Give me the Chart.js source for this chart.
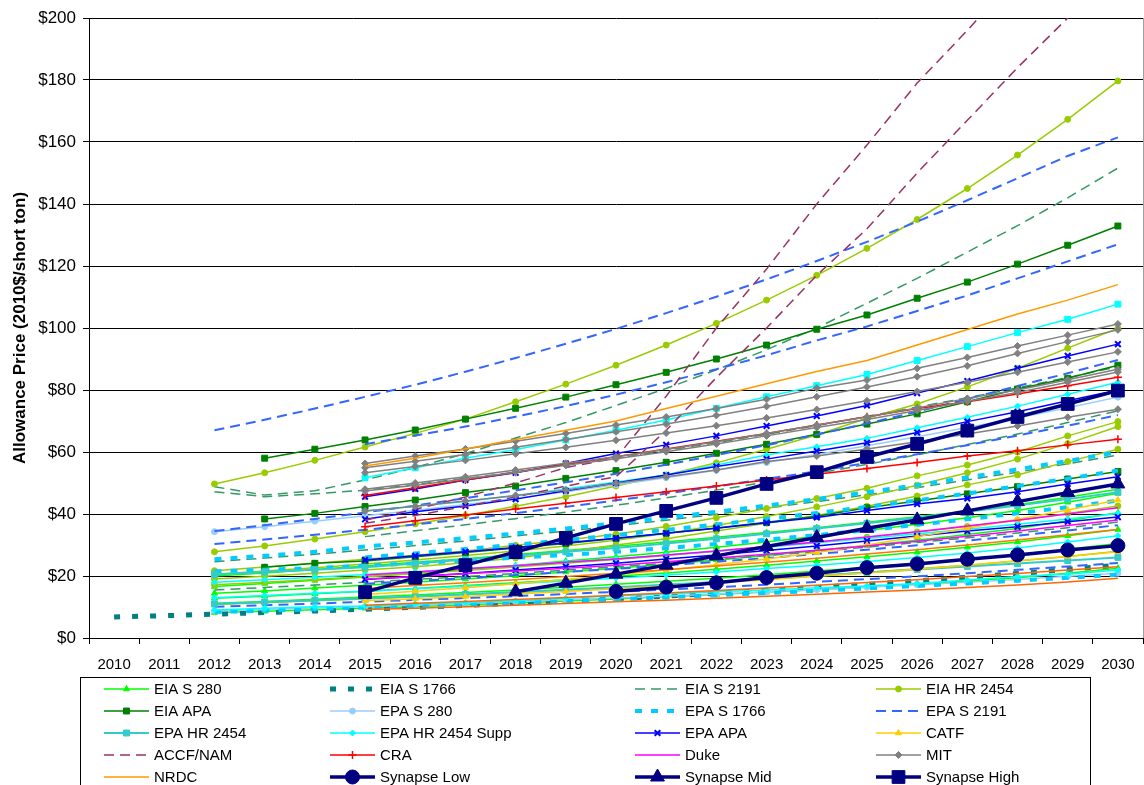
<!DOCTYPE html>
<html lang="en">
<head>
<meta charset="UTF-8">
<title>Allowance Price Forecasts</title>
<script src="https://cdn.jsdelivr.net/npm/chart.js"></script>
<style>
    html, body {
        margin: 0;
        padding: 0;
        background: #fff;
        overflow: hidden;
    }
</style>
</head>
<body>
<canvas id="chart" width="1144" height="800"></canvas>
<script>
const N = null;
const years = ['2010','2011','2012','2013','2014','2015','2016','2017','2018','2019','2020',
               '2021','2022','2023','2024','2025','2026','2027','2028','2029','2030'];
const yTicks = [0, 20, 40, 60, 80, 100, 120, 140, 160, 180, 200];

// one row per scenario, values for 2010..2030 ($/short ton)
const eiaS280 = [
    [N,N,20.0,21.0,22.1,23.2,24.4,25.6,26.9,28.2,29.6,31.0,32.5,34.0,35.6,37.3,39.1,41.0,43.0,45.4,48.0],
    [N,N,16.6,17.6,18.6,19.7,20.9,22.1,23.4,24.8,26.2,27.7,29.3,31.0,32.8,34.7,36.7,38.8,41.1,43.8,46.7],
    [N,N,14.4,15.2,16.1,17.0,18.0,19.0,20.1,21.3,22.5,23.8,25.2,26.6,28.2,29.8,31.5,33.4,35.3,37.8,40.4],
    [N,N,12.8,13.5,14.3,15.1,16.0,16.9,17.8,18.8,19.9,21.0,22.2,23.5,24.8,26.2,27.7,29.3,31.0,33.0,35.0],
    [N,N,11.2,11.8,12.5,13.2,13.9,14.7,15.5,16.4,17.3,18.3,19.3,20.4,21.6,22.8,24.1,25.5,26.9,28.6,30.5],
    [N,N,8.2,8.6,9.1,9.6,10.1,10.7,11.3,11.9,12.6,13.3,14.0,14.8,15.6,16.5,17.4,18.4,19.4,20.9,22.5]
];
const eiaS1766 = [
    [6.8,7.2,7.7,8.2,8.7,9.3,9.9,10.5,11.2,11.9,12.7,13.5,14.4,15.3,16.3,17.3,18.4,19.6,20.8,22.1,23.5]
];
const eiaS2191 = [
    [N,N,48.8,46.1,47.5,51.0,55.0,59.5,64.5,69.5,75.0,80.5,86.5,93.0,100.0,108.0,116.0,124.5,133.0,142.0,151.6],
    [N,N,47.2,45.6,46.5,47.7,49.5,51.5,53.5,55.8,58.0,60.5,63.0,65.7,68.5,71.5,74.5,77.5,80.7,84.0,87.5],
    [N,N,24.6,25.8,27.0,28.4,29.8,31.3,32.9,34.5,36.2,38.0,39.9,41.9,44.0,46.2,48.5,51.0,53.5,56.2,59.0],
    [N,N,N,N,N,32.7,34.6,36.5,38.5,40.6,42.8,45.2,47.7,50.3,53.1,56.0,59.1,62.4,65.8,69.5,73.3],
    [N,N,15.5,16.3,17.1,18.0,18.9,19.8,20.8,21.9,23.0,24.1,25.3,26.6,27.9,29.3,30.8,32.3,33.9,35.6,37.4]
];
const eiaHR2454 = [
    [N,N,49.7,53.3,57.3,61.6,66.0,70.6,76.2,81.9,88.0,94.5,101.5,109.0,117.0,125.7,135.0,145.0,155.8,167.3,179.7],
    [N,N,27.8,29.7,31.9,34.3,36.8,39.5,42.5,45.6,49.0,52.6,56.5,60.9,65.5,70.9,75.5,81.0,87.0,93.5,99.9],
    [N,N,21.7,22.9,24.1,25.4,26.7,28.1,29.9,31.6,33.5,36.0,38.8,41.8,45.0,48.3,52.3,55.8,60.0,65.2,69.8],
    [N,N,20.6,21.6,22.7,23.9,25.2,26.6,28.1,29.7,31.5,33.7,36.3,39.2,42.3,45.6,49.3,53.3,57.7,62.7,68.2],
    [N,N,19.0,19.9,20.9,21.9,23.0,24.3,25.8,27.8,30.0,32.0,34.5,37.0,39.5,42.5,45.8,49.4,52.6,56.9,60.9],
    [N,N,17.2,18.0,18.9,19.8,20.8,21.8,22.9,24.1,25.3,26.6,28.0,29.4,30.9,32.5,34.2,36.0,38.0,40.2,42.6],
    [N,N,10.8,11.4,12.0,12.6,13.3,14.0,14.7,15.5,16.3,17.2,18.1,19.1,20.1,21.2,22.3,23.5,24.8,26.3,28.0]
];
const eiaAPA = [
    [N,N,N,58.0,60.9,63.9,67.1,70.6,74.1,77.7,81.7,85.7,90.0,94.5,99.6,104.2,109.6,114.8,120.6,126.7,132.9],
    [N,N,N,38.4,40.2,42.4,44.5,46.9,49.0,51.5,54.0,56.7,59.6,62.5,65.7,69.0,72.3,76.2,80.3,83.8,88.0],
    [N,N,N,22.8,24.1,24.8,26.2,27.6,29.0,30.5,32.1,33.8,35.5,37.3,39.3,42.0,44.2,46.5,48.8,51.3,53.7]
];
const epaS280 = [
    [N,N,34.3,35.9,37.7,39.4,41.2,43.1,45.1,47.2,49.4,51.7,54.1,56.6,59.2,62.0,64.9,67.9,71.0,74.3,77.7],
    [N,N,8.7,9.2,9.7,10.1,10.6,11.1,11.7,12.3,12.9,13.5,14.2,14.9,15.6,16.4,17.2,18.0,18.9,19.9,20.9]
];
const epaS1766 = [
    [N,N,25.4,26.5,27.8,29.5,30.8,32.2,33.7,35.3,37.0,38.8,40.7,42.7,44.8,47.0,49.3,51.8,54.4,57.1,60.0],
    [N,N,N,N,N,26.0,27.3,28.7,30.1,31.6,33.2,34.9,36.6,38.4,40.3,42.3,44.4,46.6,49.0,51.4,54.0],
    [N,N,21.5,22.0,22.6,23.3,24.1,25.0,25.9,26.8,27.8,29.0,30.3,31.7,33.2,34.8,36.5,38.3,40.2,42.2,44.3],
    [N,N,8.4,8.8,9.3,9.8,10.3,10.8,11.3,11.9,12.5,13.1,13.8,14.5,15.2,16.0,16.8,17.6,18.5,19.4,20.4]
];
const epaS2191 = [
    [N,N,67.0,70.4,74.0,77.8,81.7,85.9,90.3,94.9,99.7,104.8,110.1,115.7,121.6,127.8,134.3,141.2,148.3,155.5,161.5],
    [N,N,N,N,N,62.5,65.3,68.2,71.4,74.8,78.5,82.5,86.7,91.2,96.0,100.5,105.5,110.5,116.0,121.5,127.0],
    [N,N,34.5,36.4,38.4,40.5,42.7,45.1,47.6,50.2,53.0,55.9,59.0,62.2,65.6,69.2,73.0,77.1,81.3,85.4,89.7],
    [N,N,30.3,31.8,33.3,34.9,36.6,38.4,40.3,42.3,44.4,46.6,48.9,51.3,53.8,56.5,59.3,62.2,65.3,68.5,71.9],
    [N,N,N,N,N,17.5,18.4,19.3,20.3,21.3,22.3,23.4,24.6,25.8,27.1,28.5,29.9,31.4,33.0,34.7,36.4],
    [N,N,10.1,10.6,11.1,11.7,12.3,12.9,13.5,14.2,14.9,15.6,16.4,17.2,18.1,19.0,19.9,20.9,22.0,23.1,24.2]
];
const epaHR2454 = [
    [N,N,20.5,21.3,22.0,22.8,24.0,25.3,26.5,27.8,29.0,30.5,32.0,33.6,35.3,37.0,38.8,40.7,42.7,44.8,47.0],
    [N,N,11.0,11.6,12.2,12.8,13.4,14.1,14.8,15.6,16.4,17.2,18.1,19.1,20.1,21.1,22.1,23.1,24.0,25.0,26.0]
];
const epaHR2454Supp = [
    [N,N,N,N,N,51.7,54.9,58.0,60.8,63.9,67.0,70.3,74.1,77.8,81.4,85.0,89.5,94.0,98.5,102.8,107.7],
    [N,N,N,N,N,41.0,42.5,44.0,46.0,48.1,50.3,52.6,55.8,59.0,61.7,64.4,67.8,71.2,74.8,78.6,82.5],
    [N,N,18.0,18.8,19.6,20.5,21.4,22.4,23.4,24.5,25.6,26.8,28.0,29.3,30.7,32.1,33.6,35.1,36.7,38.4,40.2],
    [N,N,13.0,13.7,14.4,15.1,15.9,16.7,17.5,18.4,19.3,20.3,21.3,22.4,23.5,24.7,26.0,27.4,29.0,31.0,33.0],
    [N,N,9.0,9.6,10.1,10.3,11.0,11.4,12.0,12.8,13.6,14.2,14.9,15.5,16.2,16.8,17.6,18.7,19.8,20.6,21.9]
];
const epaAPA = [
    [N,N,N,N,N,45.6,48.1,51.0,53.3,56.3,59.5,62.3,65.2,68.4,71.6,75.0,79.0,82.9,87.0,91.0,94.8],
    [N,N,N,N,N,38.3,40.7,42.6,44.8,47.5,50.0,52.6,55.3,57.7,60.3,63.0,66.3,69.8,73.0,76.5,80.0],
    [N,N,N,N,N,25.2,26.5,27.8,29.2,30.7,32.2,33.8,35.4,37.2,38.9,41.1,43.2,45.0,47.2,49.7,52.0],
    [N,N,N,N,N,18.9,19.8,20.8,21.9,23.0,24.1,25.5,26.8,28.2,29.7,31.3,32.9,34.5,35.9,37.5,39.0]
];
const catf = [
    [N,N,N,N,N,14.0,15.1,16.2,17.5,18.9,20.4,21.9,23.6,25.5,27.6,30.0,32.7,35.4,38.3,41.3,44.5],
    [N,N,N,N,N,12.0,12.7,13.4,14.2,15.0,15.9,16.8,17.8,18.8,19.9,21.0,22.2,23.5,24.9,26.3,27.8]
];
const accfNam = [
    [N,N,N,N,N,38.0,41.5,45.5,50.0,55.0,58.0,78.0,100.0,119.0,140.0,159.0,179.0,196.0,214.0,232.0,250.0],
    [N,N,N,N,N,37.0,39.5,42.5,45.5,49.0,52.0,67.0,84.0,100.0,117.0,132.0,150.0,167.0,184.0,200.0,216.0]
];
const cra = [
    [N,N,N,N,N,46.0,48.5,51.0,53.5,56.0,58.5,61.0,63.5,66.0,68.7,71.4,74.0,76.2,78.7,81.4,84.1],
    [N,N,N,N,N,35.9,37.8,39.7,41.6,43.5,45.3,47.2,49.0,51.0,52.8,54.7,56.6,58.7,60.4,62.3,64.1]
];
const duke = [
    [N,N,N,N,N,20.3,21.3,22.3,23.3,24.4,25.5,26.8,28.1,29.5,31.0,32.6,34.3,36.1,38.0,40.0,42.0],
    [N,N,N,N,N,19.0,19.8,20.7,21.6,22.5,23.5,24.6,25.8,27.0,28.3,29.7,31.2,32.8,34.5,36.3,38.1]
];
const mit = [
    [N,N,N,N,N,56.3,58.7,61.0,63.5,66.0,68.7,71.3,74.0,77.0,80.6,83.2,87.0,90.5,94.2,97.7,101.3],
    [N,N,N,N,N,54.9,57.0,59.2,61.5,64.0,66.5,69.0,71.8,74.7,77.8,81.0,84.3,87.8,91.8,95.6,99.4],
    [N,N,N,N,N,53.3,55.3,57.3,59.4,61.5,63.8,66.1,68.5,71.0,73.7,76.5,79.5,82.5,85.7,89.0,92.3],
    [N,N,N,N,N,48.0,50.0,52.0,54.2,56.4,58.5,60.8,63.3,66.0,68.7,71.3,74.2,77.3,80.0,83.3,86.7],
    [N,N,N,N,N,47.4,49.3,51.3,53.5,55.7,57.8,60.1,62.6,65.2,67.9,70.5,73.4,76.4,79.2,82.5,85.8],
    [N,N,N,N,N,41.0,42.5,44.2,46.0,47.7,49.9,52.0,54.2,56.9,58.7,61.0,63.3,65.8,68.4,71.2,73.8]
];
const nrdc = [
    [N,N,N,N,N,55.5,58.0,61.0,64.0,67.0,70.0,74.0,78.0,82.0,86.0,89.5,94.5,99.5,104.5,109.0,114.0],
    [N,N,N,N,N,16.0,16.9,17.8,18.8,19.8,20.9,22.0,23.2,24.4,25.7,27.1,28.5,30.0,31.6,33.3,35.0],
    [N,N,N,N,N,10.6,11.2,11.8,12.4,13.1,13.8,14.5,15.3,16.1,17.0,17.9,18.8,19.8,20.8,21.9,23.0],
    [N,N,N,N,N,9.2,9.6,10.1,10.6,11.1,11.7,12.2,12.8,13.5,14.1,14.8,15.5,16.3,17.1,18.1,19.3]
];
const synapseLow = [
    [N,N,N,N,N,N,N,N,N,N,15.0,16.4,17.8,19.5,20.9,22.7,23.9,25.4,26.8,28.4,29.8]
];
const synapseMid = [
    [N,N,N,N,N,N,N,N,14.9,17.7,20.6,23.5,26.5,29.5,32.4,35.4,38.1,41.0,44.0,46.9,49.7]
];
const synapseHigh = [
    [N,N,N,N,N,14.8,19.4,23.5,27.7,32.3,36.8,41.0,45.2,49.7,53.5,58.4,62.6,66.9,71.3,75.5,79.8]
];

// legend order, row by row (4 columns)
const groups = [
    { label: 'EIA S 280', rows: eiaS280, color: '#00FF00', width: 1.5, point: 'triangle', r: 3.5 },
    { label: 'EIA S 1766', rows: eiaS1766, color: '#008080', width: 5, dash: [6, 12] },
    { label: 'EIA S 2191', rows: eiaS2191, color: '#339966', width: 1.5, dash: [10, 6] },
    { label: 'EIA HR 2454', rows: eiaHR2454, color: '#99CC00', width: 1.5, point: 'circle', r: 3 },
    { label: 'EIA APA', rows: eiaAPA, color: '#008000', width: 1.5, point: 'rect', r: 4.2 },
    { label: 'EPA S 280', rows: epaS280, color: '#99CCFF', width: 1.5, point: 'circle', r: 3 },
    { label: 'EPA S 1766', rows: epaS1766, color: '#00CCFF', width: 4, dash: [7, 9] },
    { label: 'EPA S 2191', rows: epaS2191, color: '#3366FF', width: 2, dash: [10, 6] },
    { label: 'EPA HR 2454', rows: epaHR2454, color: '#33CCCC', width: 2, point: 'rect', r: 4.2 },
    { label: 'EPA HR 2454 Supp', rows: epaHR2454Supp, color: '#00FFFF', width: 1.5, point: 'rectRot', r: 3,
      rowPoint: ['rect'] },
    { label: 'EPA APA', rows: epaAPA, color: '#0000FF', width: 1.5, point: 'crossRot', r: 4, pw: 2 },
    { label: 'CATF', rows: catf, color: '#FFCC00', width: 1.5, point: 'triangle', r: 3.5 },
    { label: 'ACCF/NAM', rows: accfNam, color: '#993366', width: 1.5, dash: [10, 6] },
    { label: 'CRA', rows: cra, color: '#FF0000', width: 1.5, point: 'cross', r: 4, pw: 1.5 },
    { label: 'Duke', rows: duke, color: '#FF00FF', width: 1.5 },
    { label: 'MIT', rows: mit, color: '#808080', width: 1.5, point: 'rectRot', r: 3.5 },
    { label: 'NRDC', rows: nrdc, color: '#FF9900', width: 1.5, rowColor: ['#FF9900', '#FF7700', '#FF6600', '#FF6600'] },
    { label: 'Synapse Low', rows: synapseLow, color: '#000080', width: 3.5, point: 'circle', r: 7 },
    { label: 'Synapse Mid', rows: synapseMid, color: '#000080', width: 3.5, point: 'triangle', r: 8 },
    { label: 'Synapse High', rows: synapseHigh, color: '#000080', width: 3.5, point: 'rect', r: 9 }
];

const datasets = [];
groups.forEach(g => {
    g.rows.forEach((row, i) => {
        const color = (g.rowColor && g.rowColor[i]) || g.color;
        const style = (g.rowPoint && g.rowPoint[i]) || g.point;
        datasets.push({
            label: g.label,
            data: row,
            borderColor: color,
            backgroundColor: color,
            borderWidth: g.width,
            borderDash: g.dash || [],
            pointStyle: style || 'circle',
            pointRadius: style ? (style === 'rect' && g.rowPoint ? 4.2 : g.r) : 0,
            pointBorderWidth: g.pw || 1,
            pointBorderColor: color,
            pointBackgroundColor: color,
            tension: 0
        });
    });
});
// Excel draws later series on top; Chart.js draws the first dataset on top
datasets.reverse();

const legendBox = {
    id: 'legendBox',
    afterDraw(chart) {
        const ctx = chart.ctx;
        const area = chart.chartArea;
        ctx.save();
        // right border of the plot area
        ctx.strokeStyle = '#a0a0a0';
        ctx.lineWidth = 1;
        ctx.beginPath();
        ctx.moveTo(area.right + 0.5, area.top);
        ctx.lineTo(area.right + 0.5, area.bottom);
        ctx.stroke();

        ctx.strokeStyle = '#000';
        ctx.strokeRect(80.5, 677.5, 1010, 140);
        const colX = [104, 330, 635, 876];
        groups.forEach((g, i) => {
            const x0 = colX[i % 4];
            const y = 689 + Math.floor(i / 4) * 22;
            ctx.strokeStyle = g.color;
            ctx.fillStyle = g.color;
            ctx.lineWidth = g.width;
            ctx.setLineDash(g.dash || []);
            ctx.beginPath();
            ctx.moveTo(x0, y);
            ctx.lineTo(x0 + 45, y);
            ctx.stroke();
            ctx.setLineDash([]);
            if (g.point) {
                ctx.lineWidth = g.pw || 1;
                Chart.helpers.drawPoint(ctx, { pointStyle: g.point, radius: g.r, borderWidth: g.pw || 1, rotation: 0 },
                    x0 + 22.5, y);
            }
            ctx.fillStyle = '#000';
            ctx.font = '15px Arial, "Liberation Sans", sans-serif';
            ctx.textBaseline = 'middle';
            ctx.textAlign = 'left';
            ctx.fillText(g.label, x0 + 50, y + 1);
        });
        ctx.restore();
    }
};

const ctx = document.getElementById('chart').getContext('2d');
new Chart(ctx, {
    type: 'line',
    data: { labels: years, datasets: datasets },
    options: {
        responsive: false,
        animation: false,
        events: [],
        layout: {
            autoPadding: false,
            padding: { top: 18, right: 1, bottom: 122, left: 0 }
        },
        plugins: {
            legend: { display: false },
            tooltip: { enabled: false }
        },
        scales: {
            x: {
                offset: true,
                grid: { offset: true, drawOnChartArea: false, tickLength: 6, color: '#000' },
                border: { color: '#000' },
                ticks: {
                    color: '#000', padding: 12, maxRotation: 0, autoSkip: false,
                    font: { family: 'Arial, "Liberation Sans", sans-serif', size: 15 }
                },
                afterFit(scale) {
                    scale.height = 40;
                    scale.paddingLeft = 0;
                    scale.paddingRight = 0;
                }
            },
            y: {
                min: 0,
                max: 200,
                afterBuildTicks(scale) { scale.ticks = yTicks.map(v => ({ value: v })); },
                grid: { color: '#000', tickLength: 6 },
                border: { color: '#000' },
                ticks: {
                    color: '#000', padding: 7,
                    callback: v => '$' + v,
                    font: { family: 'Arial, "Liberation Sans", sans-serif', size: 17 }
                },
                title: {
                    display: true,
                    text: 'Allowance Price (2010$/short ton)',
                    color: '#000',
                    padding: { top: 10, bottom: 0 },
                    font: { family: 'Arial, "Liberation Sans", sans-serif', size: 17, weight: 'bold' }
                },
                afterFit(scale) { scale.width = 89; }
            }
        }
    },
    plugins: [legendBox]
});
</script>
</body>
</html>
